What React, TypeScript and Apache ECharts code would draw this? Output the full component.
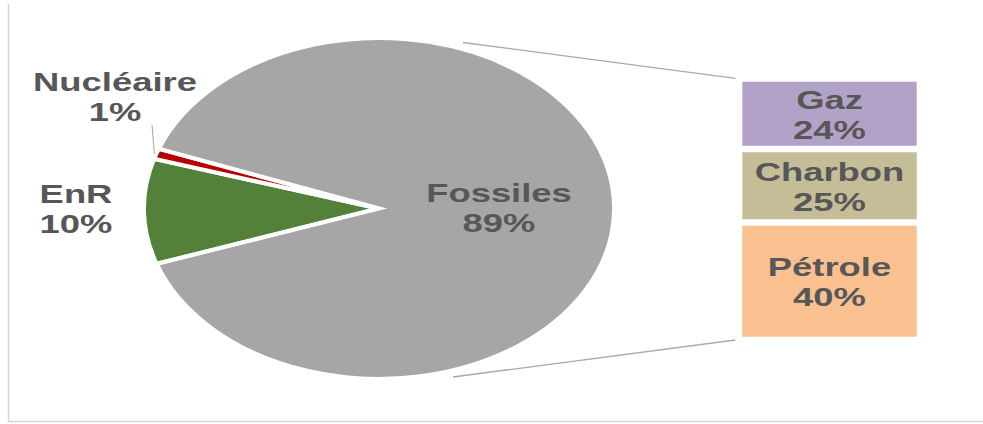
import React, { useEffect, useRef } from "react";
import * as echarts from "echarts";

// ---------- data ----------
const pieCategories = ["EnR", "Nucléaire", "Fossiles"]; // sweep order (clockwise)
const pieValues = [10, 1, 89];
const barCategories = ["Pétrole", "Charbon", "Gaz"]; // stacked bottom -> top
const barValues = [40, 25, 24];
const barAxisCategory = ["Fossiles"];

// ---------- layout / style ----------
const WIDTH = 983;
const HEIGHT = 424;
const PIE_CX = 379;
const PIE_CY = 208.5;
const PIE_R = 170.5;
const PIE_SCALE_X = 1.383;
const PIE_START_DEG = 161;
const PIE_BORDER = 4;
const pieColors: Record<string, string> = {
  EnR: "#53813a",
  "Nucléaire": "#b80000",
  Fossiles: "#a6a6a6",
};
const barColors: Record<string, string> = {
  "Pétrole": "#fac090",
  Charbon: "#c4bd97",
  Gaz: "#b3a2c7",
};
// label centre offsets from the pie centre (screen px)
const pieLabelOffset: Record<string, [number, number]> = {
  Fossiles: [120, -0.5],
  EnR: [-303, 0],
  "Nucléaire": [-264, -111.5],
};
const leaderEnd: Record<string, [number, number]> = {
  "Nucléaire": [152, 125],
};
const BAR_LEFT = 742.3;
const BAR_RIGHT = 916.7;
const BAR_TOP = 78.4;
const BAR_BOTTOM = 340;
const BAR_GAP = 3.3;
const TEXT_SCALE_X = 1.4;
const FONT = '"Liberation Sans", Arial, Helvetica, sans-serif';
const TEXT_COLOR = "#575757";
const FONT_SIZE = 26;
const LINE_HEIGHT = 30;

const sum = (arr: number[]) => arr.reduce((a, b) => a + b, 0);

export default function App() {
  const ref = useRef<HTMLDivElement>(null);

  useEffect(() => {
    if (!ref.current) return;
    const chart = echarts.init(ref.current, undefined, { renderer: "svg" });
    const pieTotal = sum(pieValues);
    const barTotal = sum(barValues);

    const textStyle = (text: string) => ({
      text,
      fill: TEXT_COLOR,
      fontSize: FONT_SIZE,
      fontWeight: "bold",
      fontFamily: FONT,
      align: "center",
      verticalAlign: "middle",
      lineHeight: LINE_HEIGHT,
    });

    const option: any = {
      animation: false,
      backgroundColor: "#ffffff",
      grid: {
        left: BAR_LEFT,
        right: WIDTH - BAR_RIGHT,
        top: BAR_TOP,
        bottom: HEIGHT - BAR_BOTTOM,
      },
      xAxis: { type: "category", data: barAxisCategory, show: false },
      yAxis: { type: "value", min: 0, max: barTotal, show: false },
      graphic: [
        {
          type: "line",
          z: -1,
          shape: { x1: 8.5, y1: 4, x2: 8.5, y2: 421.5 },
          style: { stroke: "#d6d6d6", lineWidth: 1.5 },
        },
        {
          type: "line",
          z: -1,
          shape: { x1: 8.5, y1: 421.5, x2: WIDTH, y2: 421.5 },
          style: { stroke: "#d6d6d6", lineWidth: 1.5 },
        },
        {
          type: "line",
          z: -1,
          shape: { x1: 463, y1: 42.5, x2: BAR_LEFT - 7, y2: BAR_TOP },
          style: { stroke: "#a9a9a9", lineWidth: 1.3 },
        },
        {
          type: "line",
          z: -1,
          shape: { x1: 453, y1: 377, x2: BAR_LEFT - 7, y2: BAR_BOTTOM },
          style: { stroke: "#a9a9a9", lineWidth: 1.3 },
        },
      ],
      series: [
        {
          type: "custom",
          name: "Énergie",
          coordinateSystem: "none",
          silent: true,
          data: pieValues.map((v, i) => ({ name: pieCategories[i], value: [v] })),
          renderItem: (params: any, api: any) => {
            const i = params.dataIndex;
            const v = api.value(0);
            const before = sum(pieValues.slice(0, i));
            const a0 = PIE_START_DEG + (360 * before) / pieTotal;
            const a1 = a0 + (360 * v) / pieTotal;
            const name = pieCategories[i];
            const off = pieLabelOffset[name];
            const children: any[] = [
              {
                type: "sector",
                x: PIE_CX,
                y: PIE_CY,
                scaleX: PIE_SCALE_X,
                shape: {
                  cx: 0,
                  cy: 0,
                  r0: 0,
                  r: PIE_R,
                  startAngle: (a0 * Math.PI) / 180,
                  endAngle: (a1 * Math.PI) / 180,
                  clockwise: true,
                },
                style: { fill: pieColors[name], stroke: "#ffffff", lineWidth: PIE_BORDER },
              },
              {
                type: "text",
                x: PIE_CX + off[0],
                y: PIE_CY + off[1],
                scaleX: TEXT_SCALE_X,
                style: textStyle(`${name}\n${v}%`),
              },
            ];
            const le = leaderEnd[name];
            if (le) {
              const mid = (((a0 + a1) / 2) * Math.PI) / 180;
              const rr = PIE_R - PIE_BORDER / 2;
              const sx = PIE_CX + Math.cos(mid) * rr * PIE_SCALE_X;
              const sy = PIE_CY + Math.sin(mid) * rr;
              children.push({
                type: "line",
                shape: { x1: sx - 4, y1: sy, x2: le[0], y2: le[1] },
                style: { stroke: "#a6a6a6", lineWidth: 1 },
              });
            }
            return { type: "group", children };
          },
        },
        {
          type: "custom",
          name: "Fossiles",
          coordinateSystem: "cartesian2d",
          silent: true,
          encode: { x: 0, y: 2 },
          data: barValues.map((v, i) => {
            const start = sum(barValues.slice(0, i));
            return { name: barCategories[i], value: [0, start, start + v, v] };
          }),
          renderItem: (params: any, api: any) => {
            const i = params.dataIndex;
            const name = barCategories[i];
            const x = api.value(0);
            const s = api.value(1);
            const e = api.value(2);
            const v = api.value(3);
            const p0 = api.coord([x, s]);
            const p1 = api.coord([x, e]);
            const w = api.size([1, 0])[0];
            const top = p1[1] + BAR_GAP;
            const h = p0[1] - p1[1] - 2 * BAR_GAP;
            return {
              type: "group",
              children: [
                {
                  type: "rect",
                  shape: { x: p0[0] - w / 2, y: top, width: w, height: h },
                  style: { fill: barColors[name] },
                },
                {
                  type: "text",
                  x: p0[0],
                  y: top + h / 2 + 1,
                  scaleX: TEXT_SCALE_X,
                  style: textStyle(`${name}\n${v}%`),
                },
              ],
            };
          },
        },
      ],
    };

    chart.setOption(option);
    return () => chart.dispose();
  }, []);

  return (
    <div
      ref={ref}
      style={{
        position: "absolute",
        left: 0,
        top: 0,
        width: WIDTH,
        height: HEIGHT,
        background: "#ffffff",
      }}
    />
  );
}
